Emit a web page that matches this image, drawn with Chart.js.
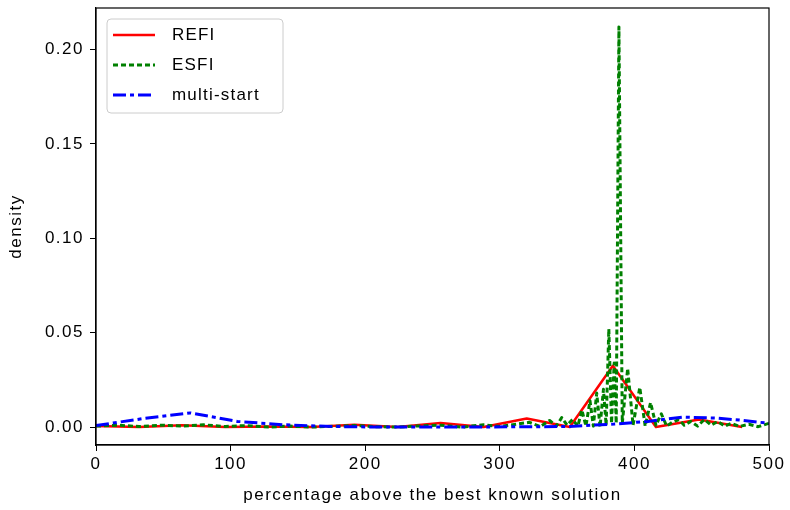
<!DOCTYPE html>
<html>
<head>
<meta charset="utf-8">
<script src="https://cdn.jsdelivr.net/npm/chart.js@4"></script>
<style>
  html, body { margin: 0; padding: 0; background: #fff; }
  #wrap { width: 790px; height: 510px; }
</style>
</head>
<body>
<div id="wrap"><canvas id="chart" width="790" height="510"></canvas></div>
<script>
// REFI (solid red)
const refiX = [0, 32, 64, 96, 128, 160, 192, 224, 256, 288, 320, 352, 384, 416, 448, 480];
const refiY = [0.0005, 0.0, 0.001, 0.0, 0.0003, 0.0, 0.0012, 0.0, 0.0022, 0.0, 0.0045, 0.0, 0.0325, 0.0, 0.004, 0.0];

// ESFI (dotted green)
const esfiX = [0, 16, 32, 48, 64, 80, 96, 112, 128, 144, 160, 176, 192, 208, 224, 240, 256, 272, 288, 300,
  312, 322, 330, 337, 342, 346, 350, 354, 358, 361, 364, 367, 369.5, 372, 374.5, 377, 379, 381, 383, 385,
  386.5, 388.5, 391, 395, 399, 404, 408, 412, 416, 420, 424, 428, 433, 437, 442, 447, 452, 457, 462, 467,
  472, 478, 485, 492, 500];
const esfiY = [0.0005, 0.001, 0.0003, 0.001, 0.0005, 0.0012, 0.0003, 0.0008, 0.0, 0.0005, 0.0, 0.0004, 0.0008, 0.0002, 0.0, 0.0006, 0.001, 0.0, 0.0012, 0.0003,
  0.0015, 0.0025, 0.0003, 0.0035, 0.0005, 0.005, 0.001, 0.004, 0.0005, 0.009, 0.0005, 0.014, 0.0005, 0.018, 0.0, 0.02, 0.001, 0.052, 0.002, 0.034,
  0.002, 0.212, 0.002, 0.031, 0.001, 0.021, 0.0005, 0.013, 0.001, 0.007, 0.0005, 0.0025, 0.004, 0.001, 0.003, 0.0005, 0.004, 0.001, 0.003, 0.0005,
  0.002, 0.0003, 0.0015, 0.0002, 0.002];

// multi-start (dash-dot blue)
const multiX = [0, 35, 70, 105, 140, 175, 210, 280, 350, 385, 410, 436, 460, 478, 500];
const multiY = [0.0008, 0.0045, 0.0075, 0.003, 0.0012, 0.0003, 0.0, 0.0, 0.0003, 0.0016, 0.003, 0.0053, 0.0048, 0.0037, 0.002];

const xTicks = [0, 100, 200, 300, 400, 500];
const yTicks = [0, 0.05, 0.10, 0.15, 0.20];

const toPoints = (xs, ys) => xs.map((x, i) => ({x: x, y: ys[i]}));

const FONT = "'Liberation Sans', Arial, sans-serif";
Chart.defaults.font.family = FONT;
Chart.defaults.font.size = 17;
Chart.defaults.color = '#000';

const spacing = {
  id: 'spacing',
  beforeLayout(chart) { chart.ctx.letterSpacing = '1.5px'; },
  beforeDraw(chart) { chart.ctx.letterSpacing = '1.5px'; }
};

const frame = {
  id: 'frame',
  afterDraw(chart) {
    const a = chart.chartArea;
    const ctx = chart.ctx;
    ctx.save();
    ctx.strokeStyle = '#000';
    ctx.lineWidth = 1.2;
    ctx.strokeRect(a.left, a.top, a.right - a.left, a.bottom - a.top);

    // legend box in the upper left corner
    const bx = a.left + 11, by = a.top + 11, bw = 176, bh = 94;
    ctx.fillStyle = 'rgba(255,255,255,0.8)';
    ctx.strokeStyle = '#cccccc';
    ctx.lineWidth = 1;
    ctx.beginPath();
    ctx.roundRect(bx, by, bw, bh, 4);
    ctx.fill();
    ctx.stroke();
    ctx.font = '17px ' + FONT;
    ctx.letterSpacing = '1.2px';
    ctx.textBaseline = 'middle';
    chart.data.datasets.forEach((ds, i) => {
      const yy = by + 16 + i * 30;
      ctx.strokeStyle = ds.borderColor;
      ctx.lineWidth = ds.borderWidth;
      ctx.setLineDash(ds.borderDash || []);
      ctx.beginPath();
      ctx.moveTo(bx + 6, yy);
      ctx.lineTo(bx + 48, yy);
      ctx.stroke();
      ctx.setLineDash([]);
      ctx.fillStyle = '#000';
      ctx.fillText(ds.label, bx + 65, yy);
    });
    ctx.restore();
  }
};

const ctx = document.querySelector('#chart').getContext('2d');
const chart = new Chart(ctx, {
  type: 'line',
  data: {
    datasets: [{
      label: 'REFI',
      data: toPoints(refiX, refiY),
      borderColor: '#ff0000',
      borderWidth: 2.5,
      order: 2
    }, {
      label: 'ESFI',
      data: toPoints(esfiX, esfiY),
      borderColor: '#008000',
      borderWidth: 3,
      borderDash: [5, 3],
      order: 1
    }, {
      label: 'multi-start',
      data: toPoints(multiX, multiY),
      borderColor: '#0000ff',
      borderWidth: 3,
      borderDash: [13, 4, 4, 4],
      order: 0
    }]
  },
  options: {
    responsive: false,
    animation: false,
    layout: { padding: { left: 0, right: 21, top: 8, bottom: 0 } },
    elements: {
      point: { radius: 0 },
      line: { tension: 0, fill: false, borderCapStyle: 'butt', borderJoinStyle: 'round' }
    },
    scales: {
      x: {
        type: 'linear',
        min: 0,
        max: 500,
        afterBuildTicks: s => { s.ticks = xTicks.map(v => ({value: v})); },
        afterFit: s => { s.height = 65; },
        grid: { drawOnChartArea: false, tickLength: 6, tickColor: '#000' },
        border: { color: '#000', width: 1.2 },
        ticks: { padding: 3, maxRotation: 0 },
        title: { display: true, text: 'percentage above the best known solution', padding: { top: 0 } }
      },
      y: {
        type: 'linear',
        min: -0.0095,
        max: 0.222,
        afterBuildTicks: s => { s.ticks = yTicks.map(v => ({value: v})); },
        afterFit: s => { s.width = 96; s.paddingTop = 0; s.paddingBottom = 0; },
        grid: { drawOnChartArea: false, tickLength: 6, tickColor: '#000' },
        border: { color: '#000', width: 1.2 },
        ticks: { padding: 6, callback: v => v.toFixed(2) },
        title: { display: true, text: 'density', padding: { top: 6, bottom: 4 } }
      }
    },
    plugins: {
      legend: { display: false },
      tooltip: { enabled: false }
    }
  },
  plugins: [spacing, frame]
});
</script>
</body>
</html>
